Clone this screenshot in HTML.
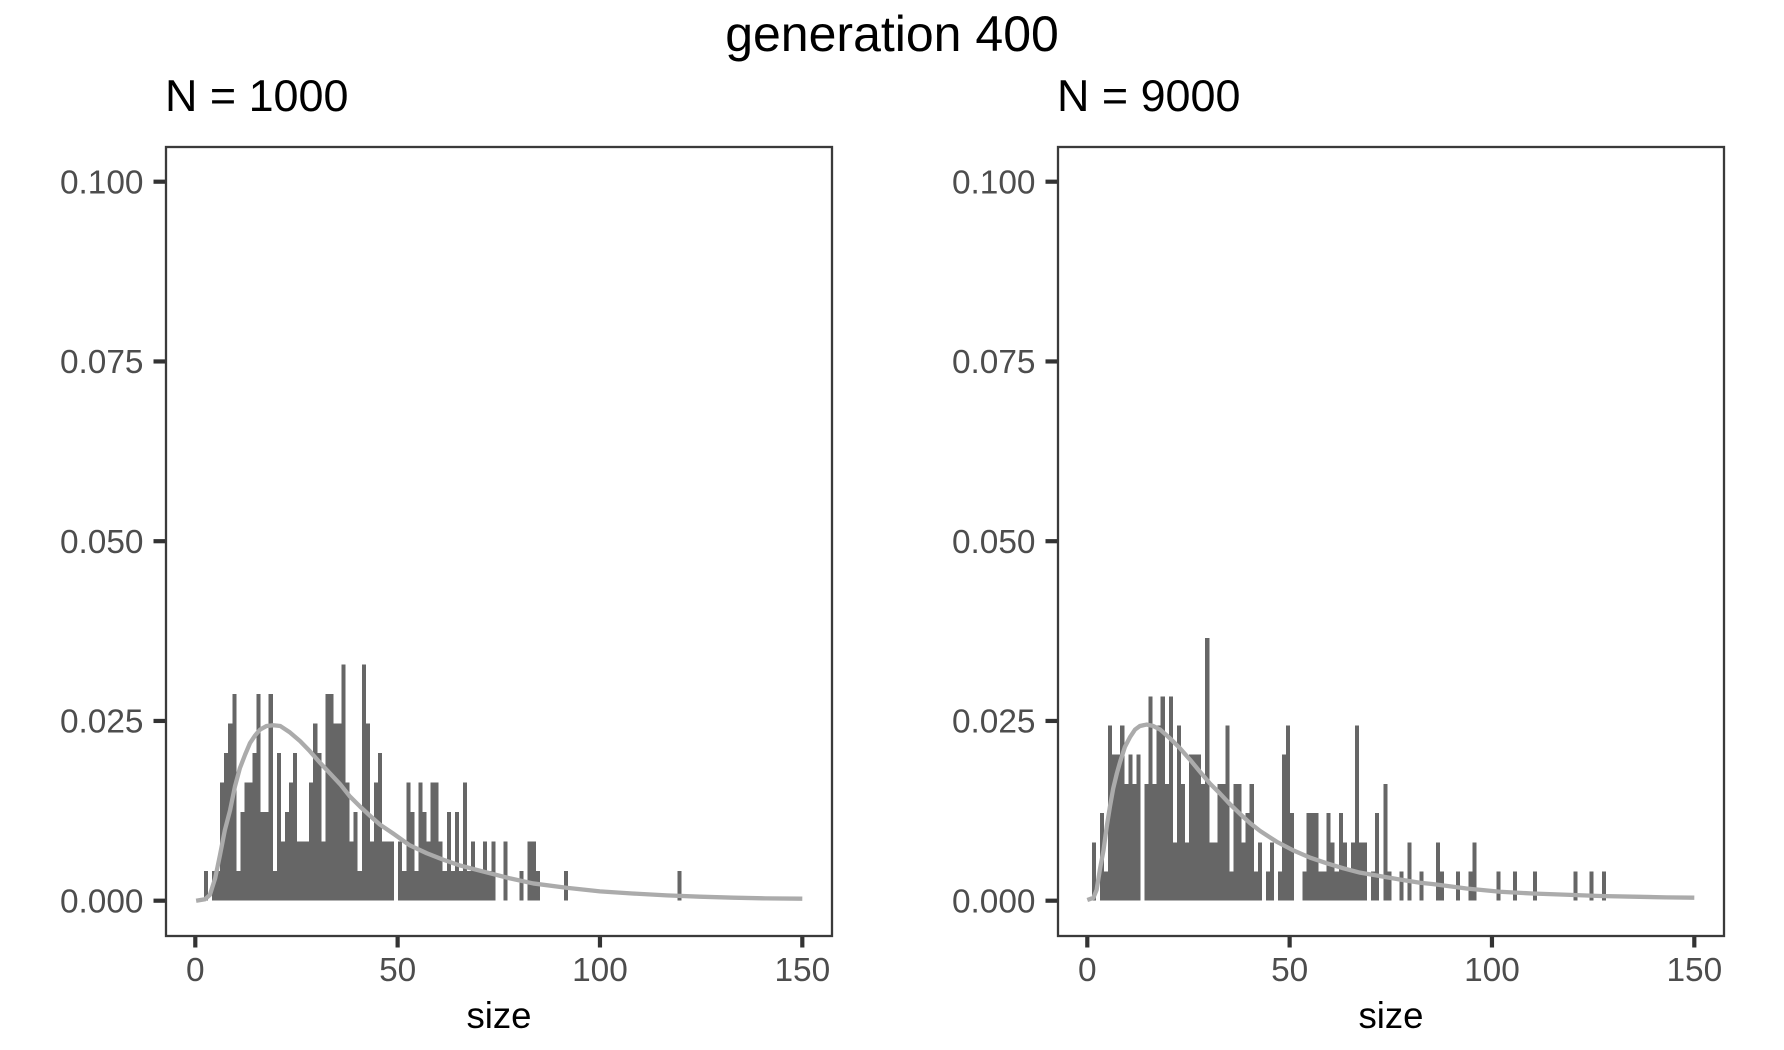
<!DOCTYPE html>
<html lang="en">
<head>
<meta charset="utf-8">
<title>generation 400</title>
<style>
html,body{margin:0;padding:0;background:#fff;width:1784px;height:1050px;overflow:hidden}
svg{display:block}
text{font-family:"Liberation Sans",sans-serif}
</style>
</head>
<body>
<svg id="chart" xmlns="http://www.w3.org/2000/svg" width="1784" height="1050" viewBox="0 0 1784 1050">
<rect x="0" y="0" width="1784" height="1050" fill="#fff"/>
<text x="892" y="51" font-size="50" text-anchor="middle" fill="#000">generation 400</text>
</svg>
<script>
const xTickValues = [0, 50, 100, 150];
const yTickValues = [0, 0.025, 0.05, 0.075, 0.1];
const yTickLabels = ["0.000", "0.025", "0.050", "0.075", "0.100"];

const leftCounts = [0,0,1,0,1,1,4,5,6,7,1,3,4,4,5,7,3,3,7,1,5,2,3,4,5,2,2,2,4,6,5,2,7,7,6,6,8,4,2,3,1,8,6,2,4,5,2,2,2,0,2,1,4,3,1,4,3,2,4,4,2,1,3,1,3,1,4,1,2,1,1,2,1,2,0,0,2,0,0,0,1,0,2,2,1,0,0,0,0,0,0,1,0,0,0,0,0,0,0,0,0,0,0,0,0,0,0,0,0,0,0,0,0,0,0,0,0,0,0,1];
const rightCounts = [0,2,0,3,1,6,5,5,6,4,5,4,5,0,4,7,4,6,7,4,7,2,6,4,2,5,5,5,4,9,2,2,4,4,6,1,4,4,2,3,4,1,2,0,1,2,0,1,5,6,3,0,0,1,3,3,3,1,1,3,2,1,3,2,1,2,6,2,2,0,1,3,0,4,1,0,0,1,0,2,0,0,1,0,0,0,2,1,0,0,0,1,0,0,1,2,0,0,0,0,0,1,0,0,0,1,0,0,0,0,1,0,0,0,0,0,0,0,0,0,1,0,0,0,1,0,0,1];

const leftCurveSizes = [0.2,2.4,3.6,4.9,6.1,7.3,8.6,9.8,11,12.3,13.5,14.8,16,17.6,19.3,21,23.4,25.9,28.3,30.8,33.3,35.8,38.2,40.7,43.2,45.6,49,53,57.2,61.3,65.4,69.5,73.6,77.8,83.5,91.7,100,108,116.5,124.7,133,141,150];
const leftCurveDensity = [0,0.0002,0.0008,0.0031,0.00635,0.0098,0.0126,0.0159,0.0184,0.0203,0.0219,0.023,0.0238,0.0243,0.0244,0.0243,0.0234,0.0222,0.0208,0.0192,0.0177,0.0162,0.0145,0.0131,0.0118,0.0106,0.0093,0.0077,0.0066,0.0057,0.0049,0.0043,0.0037,0.0031,0.0024,0.0018,0.0013,0.001,0.00074,0.00056,0.00042,0.00032,0.00028];
const rightCurveSizes = [0,1.5,2.3,3.1,4,4.8,5.6,6.4,7.3,8.1,9.3,10.6,11.8,13,14.7,16.3,18,20.4,22.9,25.4,27.9,30.3,32.8,35.3,37.7,40.2,42.7,46.8,50.9,55,59.2,63.3,67.4,71.5,75.6,82.2,85.5,93.7,102,110,118.5,126.7,135,143,150];
const rightCurveDensity = [0.0001,0.0004,0.0015,0.0043,0.007,0.0103,0.0131,0.0156,0.0177,0.0193,0.0214,0.0228,0.0238,0.0243,0.0245,0.0243,0.0238,0.0226,0.0212,0.0196,0.0179,0.0163,0.0149,0.0134,0.0121,0.0108,0.0097,0.0082,0.007,0.006,0.0052,0.0045,0.0039,0.0035,0.0031,0.0025,0.0023,0.0017,0.00125,0.001,0.00083,0.00065,0.00056,0.00046,0.00042];

const leftDensityPerCount = 0.00411;
const rightDensityPerCount = 0.00406;

const svg = document.getElementById('chart');
const NS = 'http://www.w3.org/2000/svg';
const PANEL_TOP = 147, PANEL_BOTTOM = 936, PANEL_W = 666;
const PX_PER_SIZE = 4.0467, PX_PER_DENSITY = 7190, BASELINE_Y = 900.7, BIN_OFFSET = 0.14;

function make(tag, attrs, parent) {
  const el = document.createElementNS(NS, tag);
  for (const k in attrs) el.setAttribute(k, attrs[k]);
  parent.appendChild(el);
  return el;
}

function drawPanel(side, panelLeft, zeroX, title, counts, unit, curveSizes, curveDensity) {
  const xAxis = v => zeroX + v * PX_PER_SIZE;
  const yAxis = v => BASELINE_Y - v * PX_PER_DENSITY;

  const g = make('g', {}, svg);
  
  

  const t = make('text', {x: panelLeft - 1, y: 111, 'font-size': 44.9, fill: '#000'}, g);
  
  
  t.textContent = title;

  const barsG = make('g', {fill: '#666666', 'shape-rendering': 'crispEdges'}, g);
  
  
  counts.forEach((c, i) => {
    if (!c) return;
    const x0 = xAxis(i + BIN_OFFSET), x1 = xAxis(i + 1 + BIN_OFFSET);
    const y1 = yAxis(c * unit);
    const bar = make('rect', {x: x0, y: y1, width: x1 - x0, height: BASELINE_Y - y1}, barsG);
    
    
  });

  const pts = curveSizes.map((s, i) => xAxis(s).toFixed(2) + ',' + yAxis(curveDensity[i]).toFixed(2)).join(' ');
  const line = make('polyline', {points: pts, fill: 'none', stroke: '#ABABAB', 'stroke-width': 4.3, 'stroke-linejoin': 'round'}, g);
  
  

  const border = make('rect', {x: panelLeft, y: PANEL_TOP, width: PANEL_W, height: PANEL_BOTTOM - PANEL_TOP, fill: 'none', stroke: '#3a3a3a', 'stroke-width': 2.3}, g);
  
  

  xTickValues.forEach(v => {
    const tick = make('line', {x1: xAxis(v), x2: xAxis(v), y1: PANEL_BOTTOM + 1, y2: 947.5, stroke: '#333', 'stroke-width': 4.2}, g);
    
    
    const lab = make('text', {x: xAxis(v), y: 981, 'font-size': 33.4, 'text-anchor': 'middle', fill: '#4D4D4D'}, g);
    
    
    lab.textContent = v;
  });

  yTickValues.forEach((v, i) => {
    const tick = make('line', {x1: panelLeft - 12.5, x2: panelLeft - 1, y1: yAxis(v), y2: yAxis(v), stroke: '#333', 'stroke-width': 4.2}, g);
    
    
    const lab = make('text', {x: panelLeft - 22.5, y: yAxis(v) + 11.6, 'font-size': 33.4, 'text-anchor': 'end', fill: '#4D4D4D'}, g);
    
    
    lab.textContent = yTickLabels[i];
  });

  const xt = make('text', {x: panelLeft + PANEL_W / 2, y: 1028, 'font-size': 36.6, 'text-anchor': 'middle', fill: '#000'}, g);
  
  
  xt.textContent = 'size';
}

drawPanel('left', 166, 195.3, 'N = 1000', leftCounts, leftDensityPerCount, leftCurveSizes, leftCurveDensity);
drawPanel('right', 1058, 1087.3, 'N = 9000', rightCounts, rightDensityPerCount, rightCurveSizes, rightCurveDensity);
</script>
</body>
</html>
